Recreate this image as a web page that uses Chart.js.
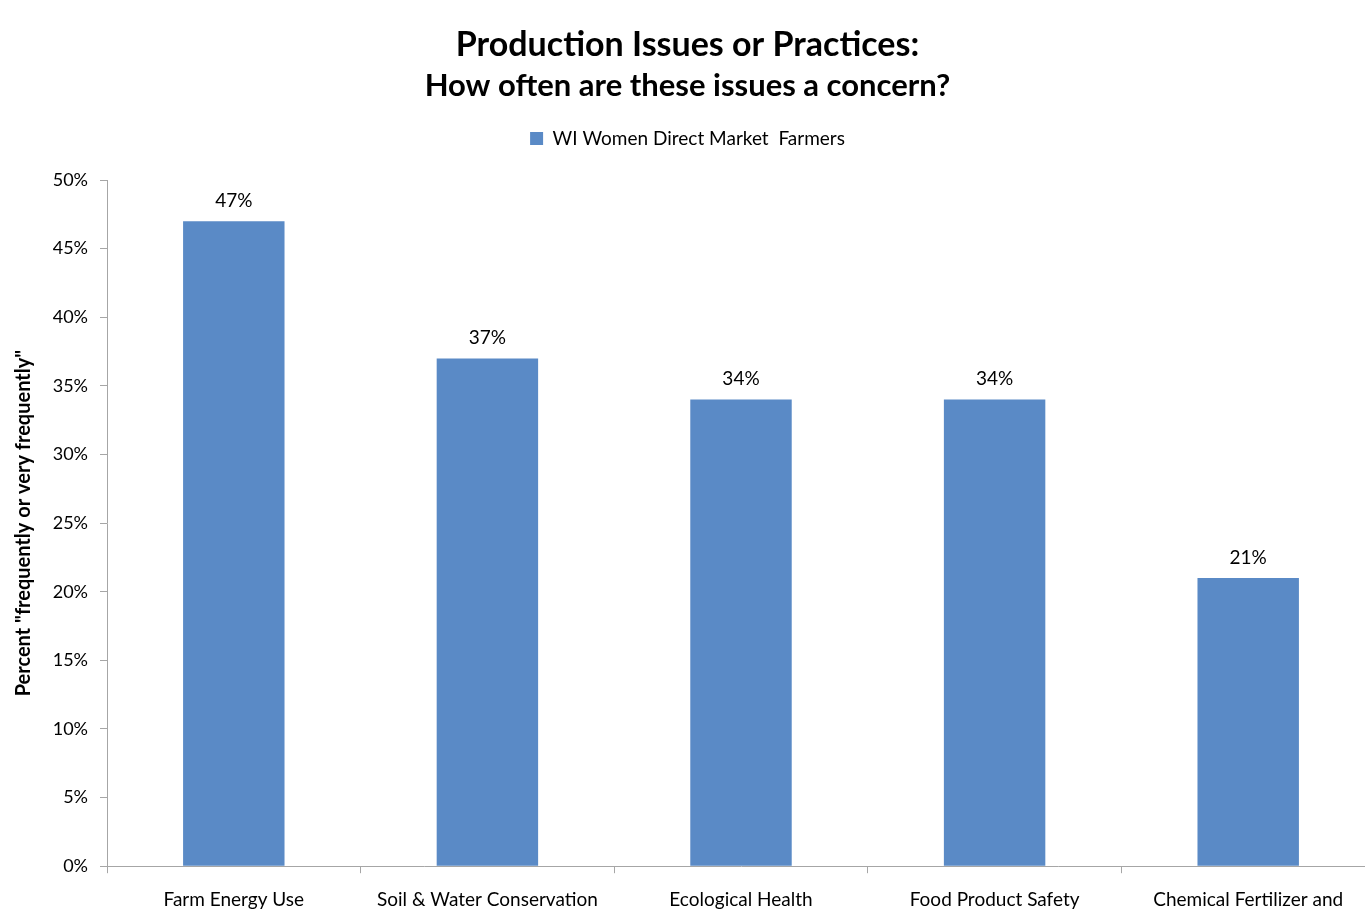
<!DOCTYPE html>
<html>
<head>
<meta charset="utf-8">
<script src="https://cdn.jsdelivr.net/npm/chart.js@4"></script>
<style>
  html, body { margin: 0; padding: 0; background: #fff; overflow: hidden; }
  .wrap { width: 1384px; height: 926px; }
</style>
</head>
<body>
<div class="wrap"><canvas id="c"></canvas></div>
<script>
const categories = ['Farm Energy Use', 'Soil & Water Conservation', 'Ecological Health', 'Food Product Safety', 'Chemical Fertilizer and'];
const seriesName = 'WI Women Direct Market  Farmers';
const values = [47, 37, 34, 34, 21];
const yTicks = [0, 5, 10, 15, 20, 25, 30, 35, 40, 45, 50];

const FONT = 'Lato, "Open Sans", sans-serif';

// draws the "47%" labels above each bar
const barLabels = {
  id: 'barLabels',
  afterDatasetsDraw(chart) {
    const ctx = chart.ctx;
    const meta = chart.getDatasetMeta(0);
    ctx.save();
    ctx.font = '19px ' + FONT;
    ctx.fillStyle = '#000';
    ctx.textAlign = 'center';
    ctx.textBaseline = 'bottom';
    meta.data.forEach((bar, i) => {
      ctx.fillText(values[i] + '%', bar.x, bar.y - 11);
    });
    ctx.restore();
  }
};

// extra room between legend and plot
const legendGap = {
  id: 'legendGap',
  beforeLayout(chart) {
    const lg = chart.legend;
    if (lg && !lg._gapPatched) {
      const fit = lg.fit.bind(lg);
      lg.fit = function() { fit(); this.height += 22; };
      lg._gapPatched = true;
    }
  }
};

new Chart(document.getElementById('c'), {
  type: 'bar',
  data: {
    labels: categories,
    datasets: [{
      label: seriesName,
      data: values,
      backgroundColor: '#5A8AC6',
      borderWidth: 0,
      barPercentage: 1,
      categoryPercentage: 0.4
    }]
  },
  options: {
    responsive: true,
    maintainAspectRatio: false,
    animation: false,
    layout: { padding: { top: 25, right: 9, left: 0, bottom: 0 } },
    scales: {
      x: {
        grid: { drawOnChartArea: false, drawTicks: true, tickLength: 7, color: '#a6a6a6', offset: true },
        border: { color: '#a6a6a6' },
        ticks: { color: '#000', font: { family: FONT, size: 19 }, padding: 15, maxRotation: 0, autoSkip: false }
      },
      y: {
        min: 0,
        max: 50,
        afterFit(s) { s.width = 107; },
        afterBuildTicks(s) { s.ticks = yTicks.map(v => ({ value: v })); },
        grid: { drawOnChartArea: false, drawTicks: true, tickLength: 7, color: '#a6a6a6' },
        border: { color: '#a6a6a6' },
        ticks: { color: '#000', font: { family: FONT, size: 18 }, padding: 12, callback: v => v + '%' },
        title: {
          display: true,
          text: 'Percent "frequently or very frequently"',
          color: '#000',
          font: { family: FONT, size: 20, weight: 'bold' },
          padding: { top: 12, bottom: 0 }
        }
      }
    },
    plugins: {
      title: {
        display: true,
        text: 'Production Issues or Practices:',
        color: '#000',
        font: { family: FONT, size: 34, weight: 'bold' },
        padding: { top: 0, bottom: 2 }
      },
      subtitle: {
        display: true,
        text: 'How often are these issues a concern?',
        color: '#000',
        font: { family: FONT, size: 31, weight: 'bold' },
        padding: { top: 0, bottom: 4 }
      },
      legend: {
        display: true,
        labels: {
          color: '#000',
          font: { family: FONT, size: 19 },
          boxWidth: 13,
          boxHeight: 13,
          padding: 20
        }
      },
      tooltip: { enabled: false }
    }
  },
  plugins: [barLabels, legendGap]
});
</script>
</body>
</html>
